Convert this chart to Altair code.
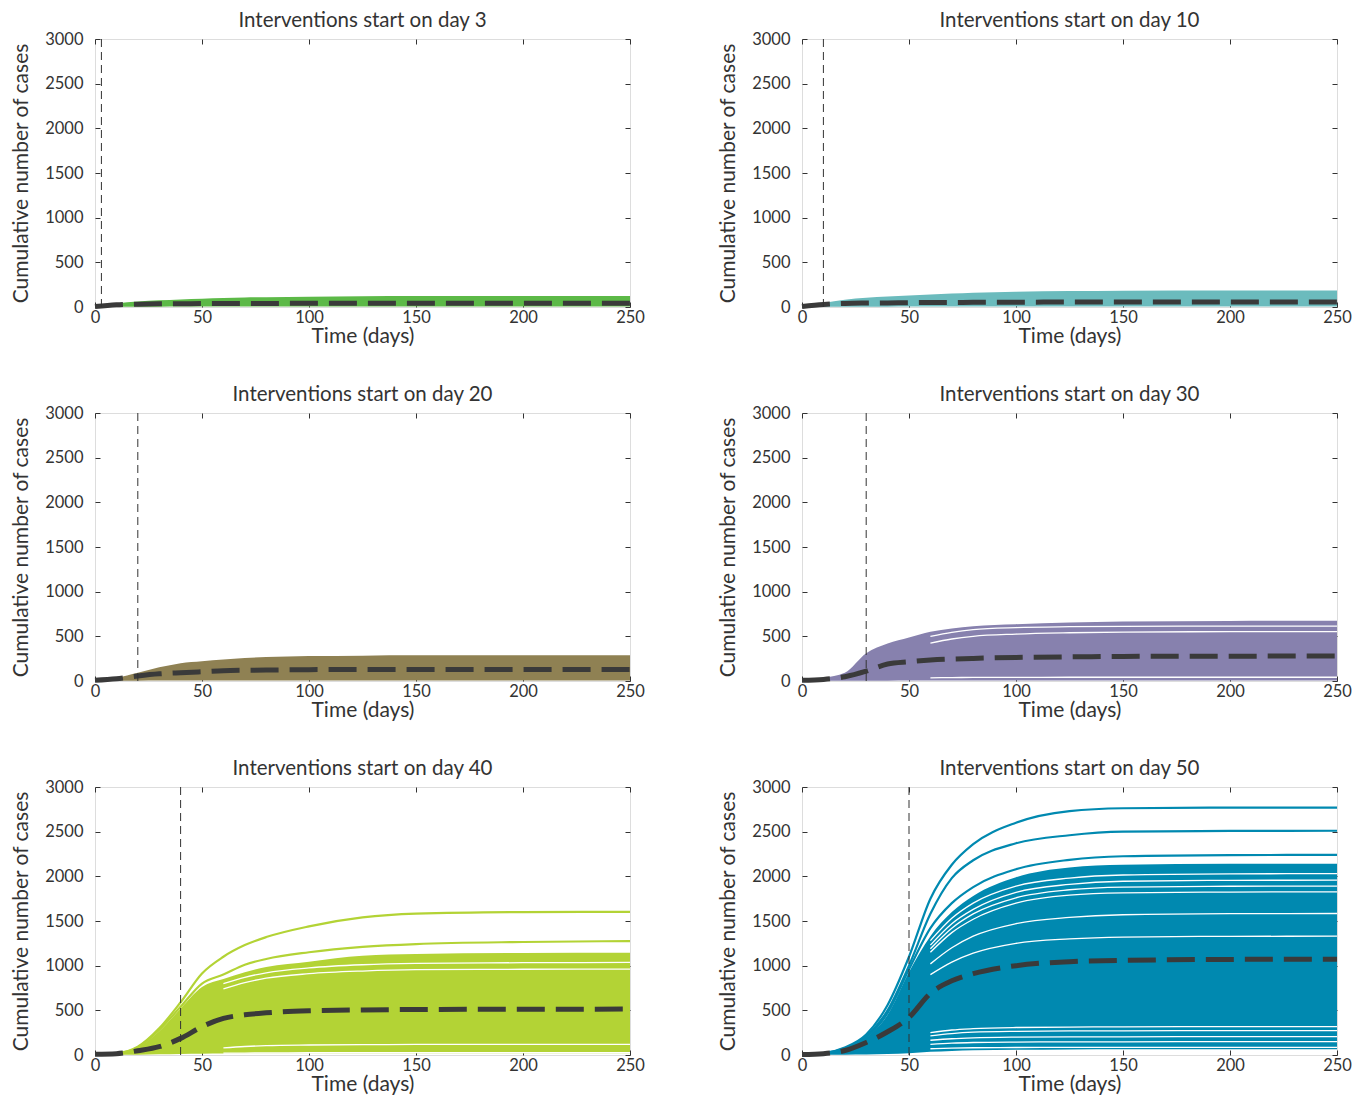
import altair as alt
import pandas as pd

# ---------------- data ----------------
T = [0, 10, 20, 30, 40, 50, 60, 70, 80, 100, 125, 150, 200, 250]
TW = [60, 70, 80, 100, 125, 150, 200, 250]
XTICKS = [0, 50, 100, 150, 200, 250]
YTICKS = [0, 500, 1000, 1500, 2000, 2500, 3000]

DAYS = [3, 10, 20, 30, 40, 50]
COLORS = ["#5cb947", "#6bbbbd", "#8f8153", "#8781ae", "#b3d335", "#0089b0"]

# panel 1: day 3
P1_UPPER = [5, 40, 62, 75, 85, 93, 100, 106, 110, 115, 119, 122, 123, 123]
P1_LOWER = [0, 2, 3, 4, 5, 5, 6, 6, 6, 6, 6, 6, 6, 6]
P1_MEAN = [5, 25, 32, 35, 37, 38, 39, 40, 40, 41, 41, 41, 41, 41]
P1_LINES = []
P1_WHITE = []

# panel 2: day 10
P2_UPPER = [5, 45, 82, 104, 118, 130, 140, 150, 160, 171, 178, 183, 186, 186]
P2_LOWER = [0, 2, 3, 4, 4, 5, 5, 5, 5, 5, 5, 5, 5, 5]
P2_MEAN = [5, 28, 40, 44, 46, 48, 50, 51, 52, 54, 55, 56, 56, 56]
P2_LINES = []
P2_WHITE = []

# panel 3: day 20
P3_UPPER = [5, 37, 93, 153, 200, 222, 242, 258, 268, 279, 284, 287, 287, 287]
P3_LOWER = [0, 2, 4, 5, 5, 5, 5, 5, 5, 5, 5, 5, 5, 5]
P3_MEAN = [8, 25, 56, 80, 93, 104, 115, 120, 123, 127, 129, 130, 130, 130]
P3_LINES = []
P3_WHITE = []

# panel 4: day 30
P4_UPPER = [5, 37, 93, 312, 420, 488, 551, 588, 614, 636, 655, 666, 672, 674]
P4_LOWER = [0, 2, 3, 4, 4, 5, 5, 5, 5, 5, 5, 5, 5, 5]
P4_MEAN = [8, 18, 48, 110, 190, 215, 234, 246, 253, 264, 270, 275, 278, 279]
P4_LINES = []
P4_WHITE = [
    [500, 545, 575, 598, 608, 612, 614, 614],
    [425, 470, 500, 525, 540, 548, 552, 552],
    [36, 38, 40, 41, 42, 42, 42, 42],
]

# panel 5: day 40
P5_UPPER = [5, 17, 80, 265, 520, 760, 850, 925, 985, 1045, 1110, 1130, 1142, 1144]
P5_LOWER = [0, 2, 4, 8, 12, 15, 17, 18, 19, 20, 20, 20, 20, 20]
P5_MEAN = [8, 15, 48, 93, 186, 317, 410, 450, 472, 495, 505, 509, 512, 514]
P5_LINES = [
    [5, 19, 93, 298, 590, 913, 1100, 1230, 1320, 1440, 1540, 1582, 1600, 1603],
    [5, 18, 85, 280, 540, 800, 900, 1010, 1075, 1150, 1210, 1242, 1265, 1275],
]
P5_WHITE = [
    [800, 870, 920, 975, 1010, 1025, 1033, 1036],
    [740, 810, 860, 910, 940, 955, 960, 962],
    [80, 95, 105, 112, 116, 118, 119, 119],
    [20, 22, 24, 25, 26, 26, 26, 26],
]

# panel 6: day 50
P6_UPPER = [5, 17, 68, 190, 450, 930, 1330, 1600, 1780, 1990, 2100, 2130, 2140, 2140]
P6_LOWER = [0, 2, 4, 6, 10, 20, 35, 45, 52, 58, 62, 64, 65, 65]
P6_MEAN = [5, 15, 50, 140, 260, 420, 690, 830, 910, 1000, 1045, 1060, 1070, 1073]
P6_LINES = [
    [5, 20, 85, 230, 560, 1100, 1750, 2130, 2360, 2600, 2730, 2762, 2770, 2770],
    [5, 18, 75, 210, 500, 1000, 1580, 1980, 2180, 2370, 2460, 2500, 2508, 2510],
    [5, 17, 70, 195, 470, 960, 1420, 1700, 1880, 2080, 2185, 2225, 2238, 2240],
]
P6_WHITE = [
    [1280, 1530, 1700, 1890, 1980, 2015, 2028, 2030],
    [1230, 1470, 1630, 1820, 1910, 1945, 1955, 1957],
    [1190, 1420, 1580, 1760, 1850, 1880, 1889, 1890],
    [1150, 1370, 1520, 1700, 1790, 1815, 1824, 1826],
    [1020, 1200, 1330, 1470, 1540, 1570, 1582, 1584],
    [900, 1040, 1140, 1250, 1300, 1320, 1328, 1330],
    [250, 280, 295, 308, 313, 315, 317, 317],
    [215, 240, 255, 265, 269, 271, 272, 272],
    [165, 182, 192, 200, 203, 204, 205, 205],
    [120, 133, 140, 145, 147, 148, 149, 149],
    [70, 77, 81, 84, 85, 86, 86, 86],
]

PANELS = [
    (P1_UPPER, P1_LOWER, P1_MEAN, P1_LINES, P1_WHITE),
    (P2_UPPER, P2_LOWER, P2_MEAN, P2_LINES, P2_WHITE),
    (P3_UPPER, P3_LOWER, P3_MEAN, P3_LINES, P3_WHITE),
    (P4_UPPER, P4_LOWER, P4_MEAN, P4_LINES, P4_WHITE),
    (P5_UPPER, P5_LOWER, P5_MEAN, P5_LINES, P5_WHITE),
    (P6_UPPER, P6_LOWER, P6_MEAN, P6_LINES, P6_WHITE),
]

FONT = "Lato"
TXT = "#333333"
W, H = 535, 268

xs = alt.Scale(domain=[0, 250], nice=False, zero=False)
ys = alt.Scale(domain=[0, 3000], nice=False)

ax_bottom = alt.Axis(values=XTICKS, offset=-5, tickSize=5, domain=False, grid=False,
                     labelPadding=2, title="Time (days)", titlePadding=0, format="d",
                     labelFontSize=16.5, titleFontSize=21, labelFont=FONT, titleFont=FONT,
                     labelColor=TXT, titleColor=TXT, titleFontWeight="normal",
                     tickColor=TXT, labelFlush=False)
ax_left = alt.Axis(values=YTICKS, offset=-5, tickSize=5, domain=False, grid=False,
                   labelPadding=12, title="Cumulative number of cases", titlePadding=13,
                   format="d",
                   labelFontSize=16.5, titleFontSize=21, labelFont=FONT, titleFont=FONT,
                   labelColor=TXT, titleColor=TXT, titleFontWeight="normal",
                   tickColor=TXT)
ax_top = alt.Axis(orient="top", values=XTICKS, offset=-5, tickSize=5, domain=False,
                  grid=False, labels=False, title=None, tickColor=TXT)
ax_right = alt.Axis(orient="right", values=YTICKS, offset=-5, tickSize=5, domain=False,
                    grid=False, labels=False, title=None, tickColor=TXT)


def panel(i):
    upper, lower, mean, lines, whites = PANELS[i]
    color = COLORS[i]
    day = DAYS[i]
    band_df = pd.DataFrame({"t": T, "hi": upper, "lo": lower})
    mean_df = pd.DataFrame({"t": T, "v": mean})
    rows = []
    for k, ln in enumerate(lines):
        for t, v in zip(T, ln):
            rows.append({"t": t, "v": v, "id": k})
    lines_df = pd.DataFrame(rows, columns=["t", "v", "id"])
    rows = []
    for k, ln in enumerate(whites):
        for t, v in zip(TW, ln):
            rows.append({"t": t, "v": v, "id": k})
    white_df = pd.DataFrame(rows, columns=["t", "v", "id"])
    rule_df = pd.DataFrame({"d": [day]})

    band = alt.Chart(band_df).mark_area(color=color, interpolate="monotone", opacity=1).encode(
        x=alt.X("t:Q", scale=xs, axis=ax_bottom),
        y=alt.Y("hi:Q", scale=ys, axis=ax_left),
        y2="lo:Q",
    )
    layers = [band]
    if len(white_df):
        layers.append(alt.Chart(white_df).mark_line(color="white", strokeWidth=1.3,
                                                     interpolate="monotone").encode(
            x=alt.X("t:Q", scale=xs, axis=None),
            y=alt.Y("v:Q", scale=ys, axis=None),
            detail="id:N"))
    if len(lines_df):
        layers.append(alt.Chart(lines_df).mark_line(color=color, strokeWidth=2.2,
                                                     interpolate="monotone").encode(
            x=alt.X("t:Q", scale=xs, axis=None),
            y=alt.Y("v:Q", scale=ys, axis=None),
            detail="id:N"))
    meanl = alt.Chart(mean_df).mark_line(color="#3a3a3a", strokeWidth=5, strokeDash=[28, 11],
                                         interpolate="monotone").encode(
        x=alt.X("t:Q", scale=xs, axis=ax_top),
        y=alt.Y("v:Q", scale=ys, axis=ax_right),
    )
    layers.append(meanl)
    rule = alt.Chart(rule_df).mark_rule(color="#333333", strokeWidth=1, strokeDash=[8, 5]).encode(
        x=alt.X("d:Q", scale=xs, axis=None))
    layers.append(rule)
    return alt.layer(*layers).resolve_axis(x="independent", y="independent").properties(
        width=W, height=H,
        title=alt.TitleParams(f"Interventions start on day {day}", font=FONT, fontSize=20.5,
                              fontWeight="normal", color=TXT, anchor="middle", offset=0),
    )


chart = alt.concat(*[panel(i) for i in range(6)], columns=2,
                   spacing=alt.RowColnumber(row=106, column=172), bounds="flush").properties(
    padding={"left": 2, "top": 2, "right": 5, "bottom": 0}
).configure_view(stroke="#3a3a3a", strokeWidth=1.2).configure(background="white")

chart.save("out.html", embed_options={"renderer": "svg", "actions": False})
